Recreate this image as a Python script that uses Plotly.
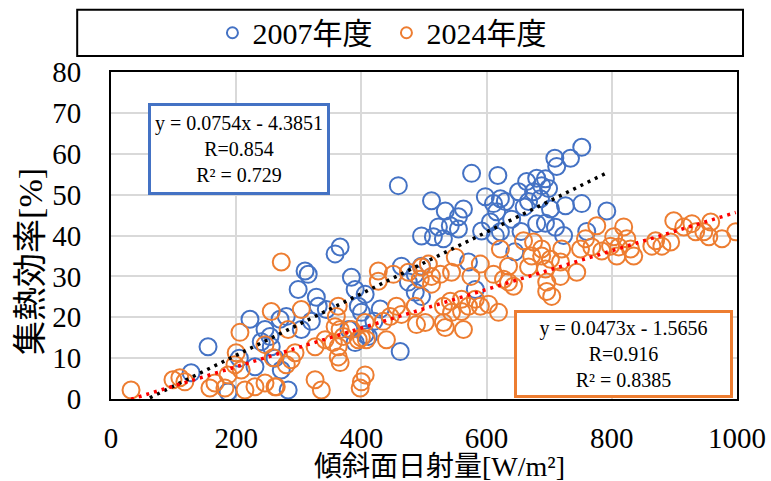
import plotly.graph_objects as go

# ---- data ----
x_2007 = [752, 734, 709, 712, 694, 688, 699, 686, 702, 726, 752, 792, 710, 694, 723, 760,
          576, 618, 512, 534, 563, 555, 598, 622, 611, 630, 616, 651, 664, 680, 675, 667, 680,
          523, 542, 515, 531, 555, 496, 571, 592, 606, 614, 622, 582, 496,
          640, 655, 660, 645,
          366, 358, 310, 315, 299, 328, 331, 384, 270, 280, 304, 320, 344, 395, 406, 390, 400,
          411, 462, 486, 475, 486, 496, 464, 254, 256, 272, 283, 406, 390,
          155, 222, 246, 128, 187, 230, 459, 205, 240, 262, 380, 420, 430]
y_2007 = [61.6, 58.9, 58.9, 56.9, 53.9, 52.2, 51.5, 49.0, 46.5, 47.3, 47.8, 46.0, 42.0, 43.0, 40.0, 41.0,
          55.2, 54.7, 48.5, 46.0, 46.5, 44.6, 49.5, 49.0, 47.8, 48.3, 45.8, 50.7, 53.2, 54.0, 50.7, 48.3, 42.9,
          42.1, 42.4, 39.7, 39.2, 41.6, 39.9, 33.5, 41.1, 43.3, 39.9, 40.9, 26.8, 25.1,
          44.0, 41.0, 47.0, 36.0,
          37.2, 35.5, 31.3, 30.5, 26.8, 24.9, 22.7, 29.8, 19.5, 20.2, 17.0, 19.0, 21.9, 22.7, 25.6, 26.8, 21.2,
          15.3, 11.6, 26.1, 28.6, 30.5, 32.5, 32.5, 15.3, 12.8, 7.1, 2.2, 15.8, 13.8,
          12.8, 19.5, 17.0, 6.4, 1.7, 7.9, 52.2, 10.0, 14.0, 10.0, 17.0, 19.0, 22.0]

x_2024 = [899, 915, 928, 934, 947, 958, 955, 976, 998, 894, 880,
          870, 864, 819, 824, 803, 798, 811, 830, 808, 835, 776, 758, 768, 750, 784,
          720, 688, 702, 718, 694, 744, 718, 696, 704,
          622, 659, 675, 688, 672, 635, 667, 611, 627, 643, 635, 696,
          507, 550, 544, 512, 526, 512, 531, 542, 560, 582, 590, 603, 619, 560, 571, 544,
          531, 534, 563, 502, 575, 590,
          272, 427, 427, 451, 475, 496, 494, 456, 446, 464, 435, 440, 488, 486, 406, 395,
          400, 408, 384, 371, 366, 358, 363, 363, 366, 355, 326, 342, 360, 363, 304, 283,
          256, 294, 288, 280, 259, 264, 326, 336, 400, 398, 406,
          32, 99, 110, 118, 158, 166, 182, 206, 200, 187, 198, 208, 246, 214, 230, 246, 262]
y_2024 = [43.6, 42.1, 42.9, 40.9, 40.9, 43.3, 39.7, 39.2, 40.9, 38.4, 37.4,
          38.7, 37.4, 42.1, 39.2, 39.7, 37.4, 37.2, 36.7, 35.0, 35.0, 42.4, 39.2, 37.2, 36.7, 36.2,
          36.7, 35.0, 34.2, 33.5, 31.8, 31.0, 30.0, 26.3, 25.1,
          36.7, 38.7, 38.4, 36.7, 35.0, 32.5, 32.3, 30.5, 29.3, 27.6, 28.6, 28.6,
          33.0, 34.7, 31.0, 30.0, 30.5, 28.1, 22.7, 23.9, 24.4, 24.4, 22.7, 23.2, 21.2, 21.4, 22.7, 21.2,
          18.7, 17.5, 17.0, 18.7, 30.0, 33.0,
          33.5, 31.3, 28.8, 30.5, 31.0, 32.3, 29.3, 22.7, 20.2, 20.7, 19.0, 14.5, 18.2, 22.7, 18.7, 14.5,
          15.0, 14.5, 17.0, 15.3, 17.0, 17.7, 12.8, 10.3, 8.9, 13.8, 12.8, 14.5, 20.2, 22.7, 21.9, 17.0,
          21.4, 11.3, 9.6, 8.4, 10.1, 3.0, 4.7, 2.2, 4.2, 2.7, 5.9,
          2.2, 4.7, 5.2, 4.2, 2.7, 3.9, 2.7, 16.3, 11.3, 5.9, 8.4, 7.1, 13.3, 2.2, 3.0, 3.9, 3.0]

series_names = ["2007年度", "2024年度"]
fit_slope = [0.0754, 0.0473]
fit_intercept = [-4.3851, -1.5656]
fit_x_range = [[62, 792], [32, 998]]
fit_texts = ["y = 0.0754x - 4.3851<br>R=0.854<br>R² = 0.729",
             "y = 0.0473x - 1.5656<br>R=0.916<br>R² = 0.8385"]
x_title = "傾斜面日射量[W/m²]"
y_title = "集熱効率[%]"

x_ticks = [0, 200, 400, 600, 800, 1000]
y_ticks = [0, 10, 20, 30, 40, 50, 60, 70, 80]

BLUE = "#4472C4"
ORANGE = "#ED7D31"
SERIF = "Liberation Serif"
FONT = "Liberation Serif, Noto Sans CJK JP, serif"

fig = go.Figure()

for xs, ys, col in [(x_2007, y_2007, BLUE), (x_2024, y_2024, ORANGE)]:
    fig.add_trace(go.Scatter(x=xs, y=ys, mode="markers", showlegend=False,
                             marker=dict(symbol="circle-open", size=17, color=col,
                                         line=dict(width=2, color=col))))

# trendlines from equations
for i, lc in enumerate(["black", "red"]):
    xr = fit_x_range[i]
    yr = [fit_slope[i] * v + fit_intercept[i] for v in xr]
    fig.add_trace(go.Scatter(x=xr, y=yr, mode="lines", showlegend=False,
                             line=dict(color=lc, width=3.5, dash="3px,5px")))

# legend entries (small markers)
for name, col in zip(series_names, [BLUE, ORANGE]):
    fig.add_trace(go.Scatter(x=[None], y=[None], mode="markers", name=name,
                             marker=dict(symbol="circle-open", size=11, color=col,
                                         line=dict(width=2, color=col))))

fig.update_xaxes(range=[0, 1000], tickvals=x_ticks, showgrid=True, gridcolor="#d9d9d9",
                 gridwidth=1.5, showline=True, linecolor="black", linewidth=2, mirror=True,
                 zeroline=False, ticks="", ticklabelstandoff=12,
                 tickfont=dict(family=SERIF, size=29, color="black"))
fig.update_yaxes(range=[0, 80], tickvals=y_ticks, showgrid=True, gridcolor="#d9d9d9",
                 gridwidth=1.5, showline=True, linecolor="black", linewidth=2, mirror=True,
                 zeroline=False, ticks="", ticklabelstandoff=22,
                 tickfont=dict(family=SERIF, size=29, color="black"))

# axis titles
fig.add_annotation(xref="paper", yref="paper", x=0.524, y=-0.207, xanchor="center", yanchor="middle",
                   text=x_title, showarrow=False, font=dict(family=FONT, size=28, color="black"))
fig.add_annotation(xref="paper", yref="paper", x=-0.129, y=0.42, xanchor="center", yanchor="middle",
                   text=y_title, showarrow=False, textangle=-90,
                   font=dict(family=FONT, size=34, color="black"))

# equation boxes
fig.add_annotation(xref="paper", yref="paper", x=0.059, y=0.905, xanchor="left", yanchor="top",
                   text=fit_texts[0], showarrow=False, align="center",
                   width=176, height=86, borderpad=0, bordercolor=BLUE, borderwidth=3,
                   bgcolor="white", font=dict(family=SERIF, size=20, color="black"))
fig.add_annotation(xref="paper", yref="paper", x=0.644, y=0.272, xanchor="left", yanchor="top",
                   text=fit_texts[1], showarrow=False, align="center",
                   width=213, height=82, borderpad=0, bordercolor=ORANGE, borderwidth=3,
                   bgcolor="white", font=dict(family=SERIF, size=20, color="black"))

# legend frame
fig.add_shape(type="rect", xref="paper", yref="paper", x0=-0.054, x1=1.0096, y0=1.049, y1=1.19,
              line=dict(color="black", width=2), fillcolor="rgba(0,0,0,0)", layer="above")

fig.update_layout(
    width=771, height=481,
    margin=dict(l=111, r=34, t=72, b=82, autoexpand=False),
    paper_bgcolor="white", plot_bgcolor="white",
    font=dict(family=FONT, color="black"),
    legend=dict(orientation="h", x=0.44, xanchor="center", y=1.12, yanchor="middle",
                font=dict(family=FONT, size=30, color="black"),
                bgcolor="rgba(0,0,0,0)", itemwidth=30, entrywidth=129),
)

fig.write_html("out.html", config={"displayModeBar": False},
               post_script="document.body.style.margin='0';document.body.style.overflow='hidden';")
